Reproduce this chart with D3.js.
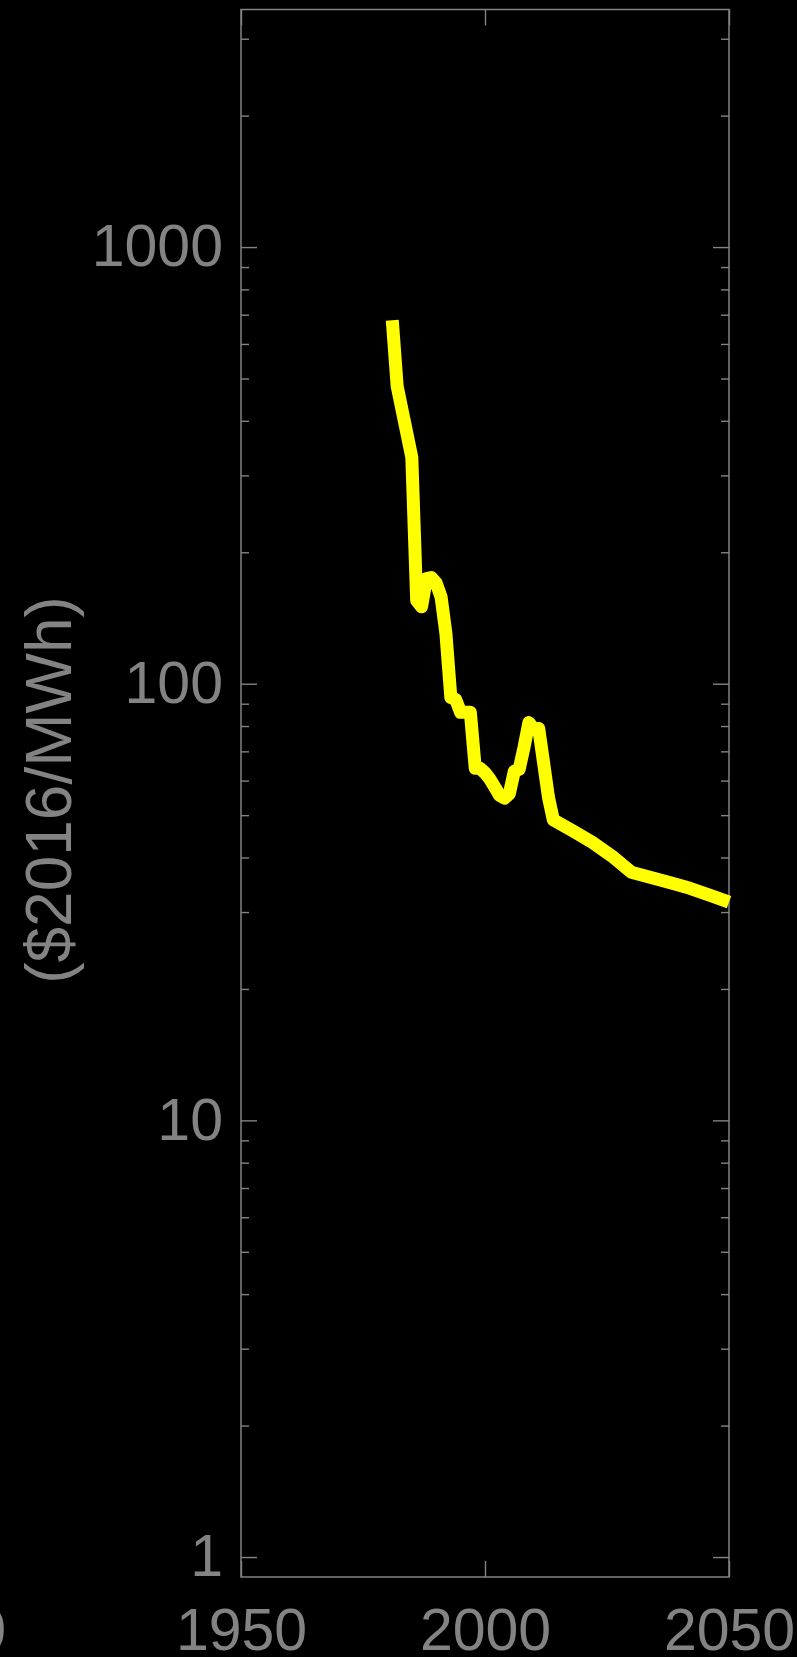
<!DOCTYPE html>
<html>
<head>
<meta charset="utf-8">
<script src="https://cdn.jsdelivr.net/npm/d3@7/dist/d3.min.js"></script>
<style>
  html, body { margin: 0; padding: 0; background: #000; }
  svg { display: block; }
  text { font-family: "Liberation Sans", Arial, Helvetica, sans-serif; }
</style>
</head>
<body>
<svg id="chart" width="797" height="1657"></svg>
<script>
// Levelized cost of electricity, $2016/MWh (log scale)
const years = [1981, 1982, 1985, 1986, 1987, 1988, 1989, 1990, 1991, 1992, 1993, 1994, 1995, 1996, 1997,
               1998, 1999, 2000, 2001, 2002, 2003, 2004, 2005, 2006, 2007, 2008, 2009, 2010, 2011,
               2012, 2013, 2014, 2018, 2022, 2026, 2030, 2034, 2038, 2042, 2046, 2050];
const costs = [680, 480, 330, 155, 150, 174, 175, 170, 158, 130, 93, 92, 86, 86, 86,
               64, 64, 62.5, 60.5, 58, 55.5, 54.7, 56, 63, 63.7, 71.5, 81.5, 78.7, 79,
               66, 55, 48.8, 46, 43.3, 40.3, 37.0, 36.0, 35.0, 34.0, 32.8, 31.6];

const xTickYears = [1950, 2000, 2050];
const yMajorTicks = [1, 10, 100, 1000];
const yMinorTicks = [2, 3, 4, 5, 6, 7, 8, 9, 20, 30, 40, 50, 60, 70, 80, 90,
                     200, 300, 400, 500, 600, 700, 800, 900, 2000, 3000];
const yTitle = "($2016/MWh)";

const grey = "#838383";
const plotLeft = 241, plotRight = 729, plotTop = 9.5, plotBottom = 1577;
const labelSize = 59;

const svg = d3.select("#chart");
svg.append("rect").attr("width", 797).attr("height", 1657).attr("fill", "#000");

const x = d3.scaleLinear().domain([1950, 2050]).range([plotLeft, plotRight]);
const y = d3.scaleLog().domain([0.9, 3500]).range([plotBottom, plotTop]);

function styleAxis(g, fontSize) {
  g.select(".domain").remove();
  g.selectAll(".tick line").attr("stroke", grey).attr("stroke-width", 1.4);
  g.selectAll(".tick text").attr("fill", grey).attr("font-size", fontSize)
    .attr("font-family", "'Liberation Sans', Arial, Helvetica, sans-serif");
}

// left axis: majors with labels, minors without
svg.append("g").attr("transform", `translate(${plotLeft},0)`)
  .call(d3.axisLeft(y).tickValues(yMajorTicks).tickSize(-16).tickPadding(18).tickFormat(d3.format("d")))
  .call(g => styleAxis(g, labelSize));
svg.append("g").attr("transform", `translate(${plotLeft},0)`)
  .call(d3.axisLeft(y).tickValues(yMinorTicks).tickSize(-8).tickFormat(""))
  .call(g => styleAxis(g, 0));

// right axis mirrors the ticks
svg.append("g").attr("transform", `translate(${plotRight},0)`)
  .call(d3.axisRight(y).tickValues(yMajorTicks).tickSize(-16).tickFormat(""))
  .call(g => styleAxis(g, 0));
svg.append("g").attr("transform", `translate(${plotRight},0)`)
  .call(d3.axisRight(y).tickValues(yMinorTicks).tickSize(-8).tickFormat(""))
  .call(g => styleAxis(g, 0));

// bottom axis with year labels, top axis ticks only
svg.append("g").attr("transform", `translate(0,${plotBottom})`)
  .call(d3.axisBottom(x).tickValues(xTickYears).tickSize(-16).tickPadding(31).tickFormat(d3.format("d")))
  .call(g => styleAxis(g, labelSize));
svg.append("g").attr("transform", `translate(0,${plotTop})`)
  .call(d3.axisTop(x).tickValues(xTickYears).tickSize(-16).tickFormat(""))
  .call(g => styleAxis(g, 0));

// plot frame
svg.append("rect")
  .attr("x", plotLeft).attr("y", plotTop)
  .attr("width", plotRight - plotLeft).attr("height", plotBottom - plotTop)
  .attr("fill", "none").attr("stroke", grey).attr("stroke-width", 1.5);

// edge of the neighbouring panel's year label
svg.append("text")
  .attr("x", 6).attr("y", plotBottom + 31).attr("dy", "0.71em")
  .attr("text-anchor", "end").attr("fill", grey).attr("font-size", labelSize)
  .text("2050");

// y-axis title
svg.append("text")
  .attr("transform", `translate(71,790) rotate(-90)`)
  .attr("text-anchor", "middle").attr("fill", grey).attr("font-size", 64)
  .text(yTitle);

// cost curve
const series = years.map((yr, i) => ({ year: yr, cost: costs[i] }));
const line = d3.line().x(d => x(d.year)).y(d => y(d.cost));
svg.append("path")
  .datum(series)
  .attr("d", line)
  .attr("fill", "none")
  .attr("stroke", "#ffff00")
  .attr("stroke-width", 13)
  .attr("stroke-linejoin", "round")
  .attr("stroke-linecap", "butt");
</script>
</body>
</html>
